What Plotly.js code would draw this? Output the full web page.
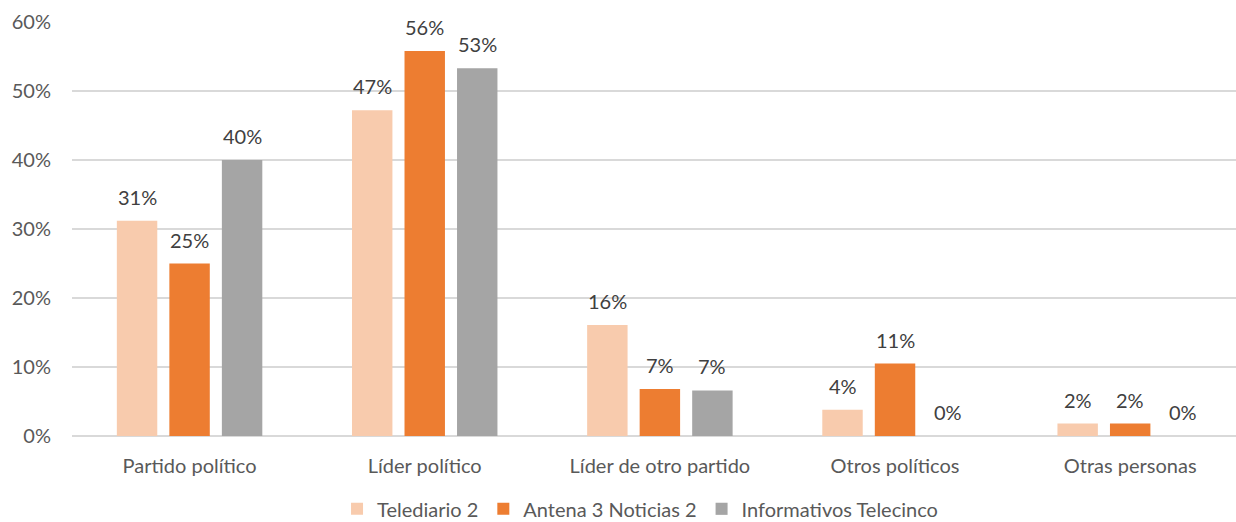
<!DOCTYPE html>
<html>
<head>
<meta charset="utf-8">
<script src="https://cdn.plot.ly/plotly-3.0.1.min.js"></script>
<style>html,body{margin:0;padding:0;background:#fff;}#chart{width:1236px;height:522px;}</style>
</head>
<body>
<div id="chart"></div>
<script>
const categories = ["Partido político", "Líder político", "Líder de otro partido", "Otros políticos", "Otras personas"];
const seriesNames = ["Telediario 2", "Antena 3 Noticias 2", "Informativos Telecinco"];
const telediario2 = [31.2, 47.2, 16.1, 3.8, 1.8];
const antena3 = [25.0, 55.8, 6.8, 10.5, 1.8];
const telecinco = [40.0, 53.3, 6.6, 0, 0];
const yTickVals = [0, 10, 20, 30, 40, 50, 60];
const yTickText = ["0%", "10%", "20%", "30%", "40%", "50%", "60%"];
const colors = ["#F8CBAD", "#ED7D31", "#A5A5A5"];

const seriesValues = [telediario2, antena3, telecinco];
const FONT = "Lato, 'Open Sans', sans-serif";
const TXT = "#595959";

const traces = seriesValues.map((vals, i) => ({
  type: "bar",
  name: seriesNames[i],
  x: categories,
  y: vals,
  marker: {color: colors[i]},
  hoverinfo: "skip"
}));

const slot = 52.5;
const annotations = [];
seriesValues.forEach((vals, i) => {
  vals.forEach((v, j) => {
    annotations.push({
      x: categories[j], y: v, xref: "x", yref: "y",
      text: Math.round(v) + "%",
      showarrow: false,
      xshift: (i - 1) * slot,
      yshift: 24,
      yanchor: "middle",
      font: {family: FONT, size: 20, color: "#404040"}
    });
  });
});

const layout = {
  width: 1236, height: 522,
  margin: {l: 72, r: 0, t: 22, b: 86, autoexpand: false},
  paper_bgcolor: "#fff", plot_bgcolor: "#fff",
  barmode: "group",
  bargap: 0.33,
  bargroupgap: 0.23,
  font: {family: FONT, size: 20, color: TXT},
  xaxis: {
    type: "category",
    range: [-0.5, 4.45],
    showgrid: false, zeroline: false, showline: false,
    ticks: "", ticklabelstandoff: 16,
    tickfont: {family: FONT, size: 20, color: TXT}
  },
  yaxis: {
    range: [0, 60],
    tickvals: yTickVals, ticktext: yTickText,
    showgrid: true, gridcolor: "#D9D9D9", gridwidth: 1.3,
    zeroline: true, zerolinecolor: "#D9D9D9", zerolinewidth: 1.3,
    showline: false, ticks: "", ticklabelstandoff: 20,
    tickfont: {family: FONT, size: 20, color: TXT}
  },
  showlegend: true,
  legend: {
    orientation: "h",
    x: 0.488, xanchor: "center",
    y: -0.176, yanchor: "middle",
    font: {family: FONT, size: 20, color: TXT},
    itemwidth: 30, tracegroupgap: 0,
    traceorder: "normal"
  },
  annotations: annotations
};

Plotly.newPlot("chart", traces, layout, {displayModeBar: false, staticPlot: true});
</script>
</body>
</html>
